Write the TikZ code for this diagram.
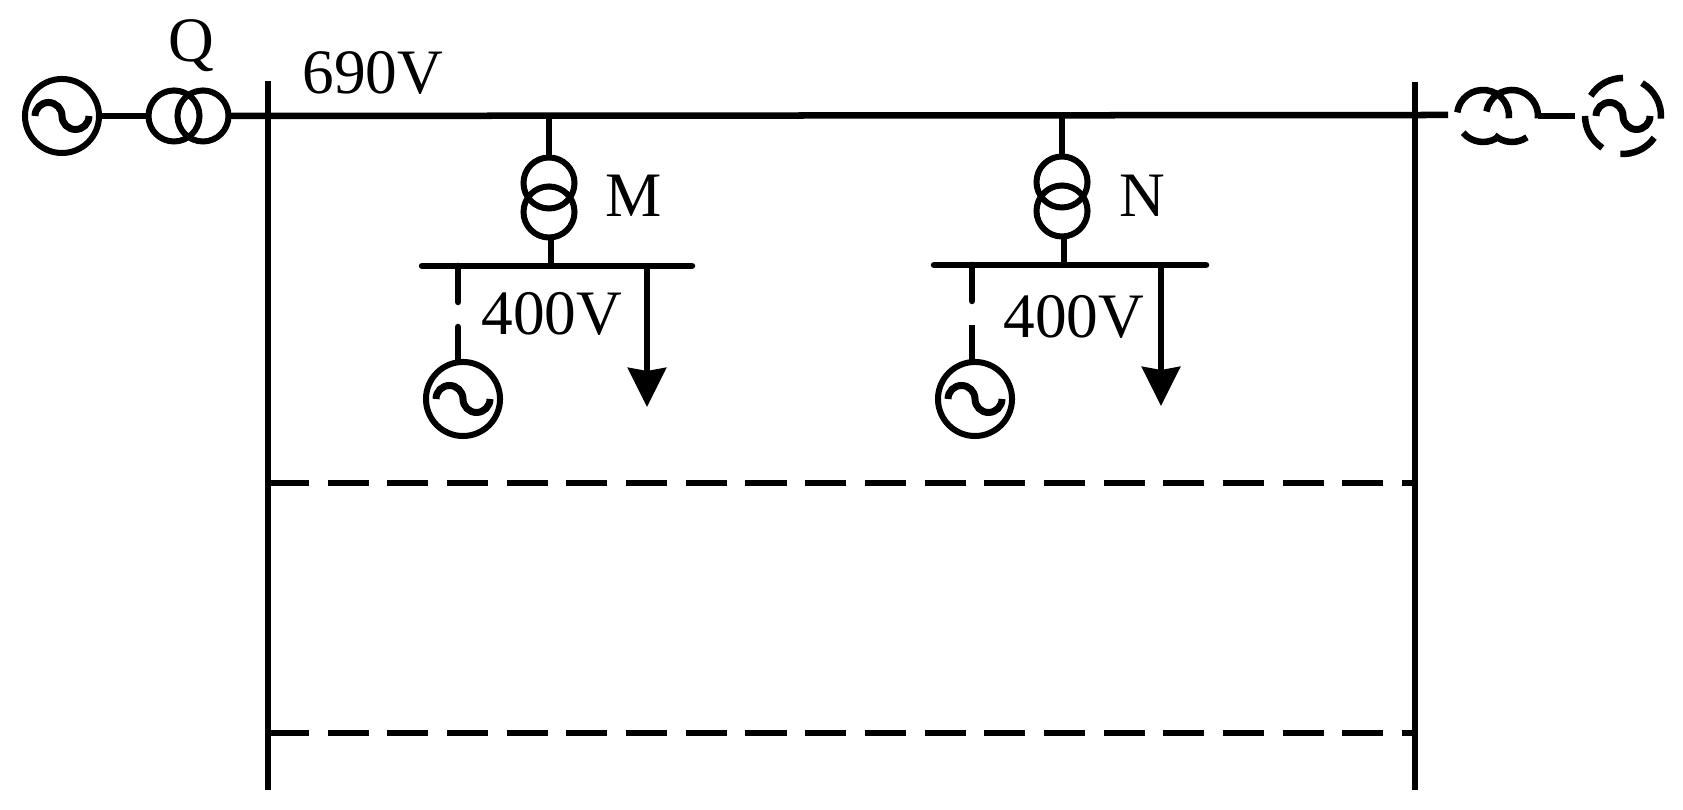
\documentclass[tikz,border=0pt]{standalone}
\usepackage{fontspec}
\setmainfont{Liberation Serif}
\usetikzlibrary{arrows.meta}
\tikzset{
  wire/.style={line width=0.065cm},
  gen/.style={circle,draw,line width=0.06cm,minimum size=0.74cm,inner sep=0pt,outer sep=0pt},
  coil/.style={circle,draw,line width=0.06cm,minimum size=0.51cm,inner sep=0pt,outer sep=0pt},
  tie/.style={line width=0.06cm,dash pattern=on 0.41cm off 0.1865cm},
  lbl/.style={inner sep=0pt,outer sep=0pt,anchor=base,font=\fontsize{18}{20}\selectfont},
  wave/.pic={\draw[line width=0.07cm] (-27,0) arc (180:0:13.5) arc (180:360:13.5);}
}

\begin{document}
\begin{tikzpicture}[x=0.01cm,y=0.01cm]
\useasboundingbox (0,0) rectangle (1683,810);

\node[gen] (genq) at (62,694) {}; %%Source
\pic at (genq) {wave};
\node[coil] (trqa) at (174,694) {};
\node[coil] (trqb) at (203,694) {};
\coordinate (busend) at (1448,695);
\draw[wire] (genq) -- (trqa);
\draw[wire] (trqb) -- (busend); %%Main
\coordinate (lefttop) at (268,729);
\coordinate (leftbot) at (268,20);
\coordinate (righttop) at (1415,728);
\coordinate (rightbot) at (1415,20);
\draw[wire] (lefttop) -- (leftbot); %%Left
\draw[wire] (righttop) -- (rightbot); %%Right

\coordinate (tieaa) at (268,327);
\coordinate (tieab) at (1415,327);
\coordinate (tieba) at (268,77);
\coordinate (tiebb) at (1415,77);
\draw[tie] (tieaa) -- (tieab);
\draw[tie] (tieba) -- (tiebb);

%%Branch M
\coordinate (tapm) at (549,695);
\node[coil] (trma) at (549,627) {};
\node[coil] (trmb) at (549,598) {};
\coordinate (busma) at (422,544);
\coordinate (busmb) at (692,544);
\coordinate (busmc) at (551,544);
\draw[wire] (tapm) -- (trma);
\draw[wire] (trmb.south -| busmc) -- (busmc);
\draw[wire,line cap=round] (busma) -- (busmb);
\coordinate (stuba) at (458,544);
\coordinate (stubb) at (458,508);
\coordinate (stubc) at (458,483);
\node[gen] (genm) at (463,411) {};
\pic at (genm) {wave};
\draw[wire,line cap=round] (stuba) -- (stubb);
\draw[wire,line cap=round] (stubc) -- (stubc |- genm.north);
\coordinate (loadma) at (647,544);
\coordinate (loadmb) at (647,403);
\draw[wire,-{Stealth[length=0.39cm,width=0.38cm,inset=0.03cm]}] (loadma) -- (loadmb);
\node[lbl] (labm) at (634,593) {M};
\node[lbl] (volm) at (552,475) {400V};

%%Branch N
\coordinate (tapn) at (1062,695);
\node[coil] (trna) at (1062,628) {};
\node[coil] (trnb) at (1062,599) {};
\coordinate (busna) at (934,545);
\coordinate (busnb) at (1206,545);
\coordinate (busnc) at (1064,545);
\draw[wire] (tapn) -- (trna);
\draw[wire] (trnb.south -| busnc) -- (busnc);
\draw[wire,line cap=round] (busna) -- (busnb);
\coordinate (stuna) at (972,545);
\coordinate (stunb) at (972,509);
\coordinate (stunc) at (972,485);
\node[gen] (genn) at (975,411) {};
\pic at (genn) {wave};
\draw[wire,line cap=round] (stuna) -- (stunb);
\draw[wire] (stunc) -- (stunc |- genn.north);
\coordinate (loadna) at (1161,545);
\coordinate (loadnb) at (1161,404);
\draw[wire,-{Stealth[length=0.39cm,width=0.38cm,inset=0.03cm]}] (loadna) -- (loadnb);
\node[lbl] (labn) at (1142,593) {N};
\node[lbl] (voln) at (1074,472) {400V};

\node[lbl] (labq) at (191,748) {Q};
\node[lbl] (volq) at (373,716) {690V};

%%Broken transformer and source on the right
\coordinate (trra) at (1483,694);
\coordinate (trrb) at (1512,694);
\coordinate (genr) at (1623,694);
\draw[wire] (trra) ++(172:26) arc (172:-5:26);
\draw[wire] (trra) ++(-140:26) arc (-140:-60:26);
\draw[wire] (trrb) ++(170:26) arc (170:-5:26);
\draw[wire] (trrb) ++(-132:26) arc (-132:-55:26);
\coordinate (stubr) at (1538,694);
\coordinate (stubs) at (1575,694);
\draw[wire] (stubr) -- (stubs);
\draw[wire] (genr) ++(148:38) arc (148:90:38);
\draw[wire] (genr) ++(60:38) arc (60:-4:38);
\draw[wire] (genr) ++(-35:38) arc (-35:-94:38);
\draw[wire] (genr) ++(237:38) arc (237:180:38);
\pic at (genr) {wave};
\end{tikzpicture}
\end{document}
